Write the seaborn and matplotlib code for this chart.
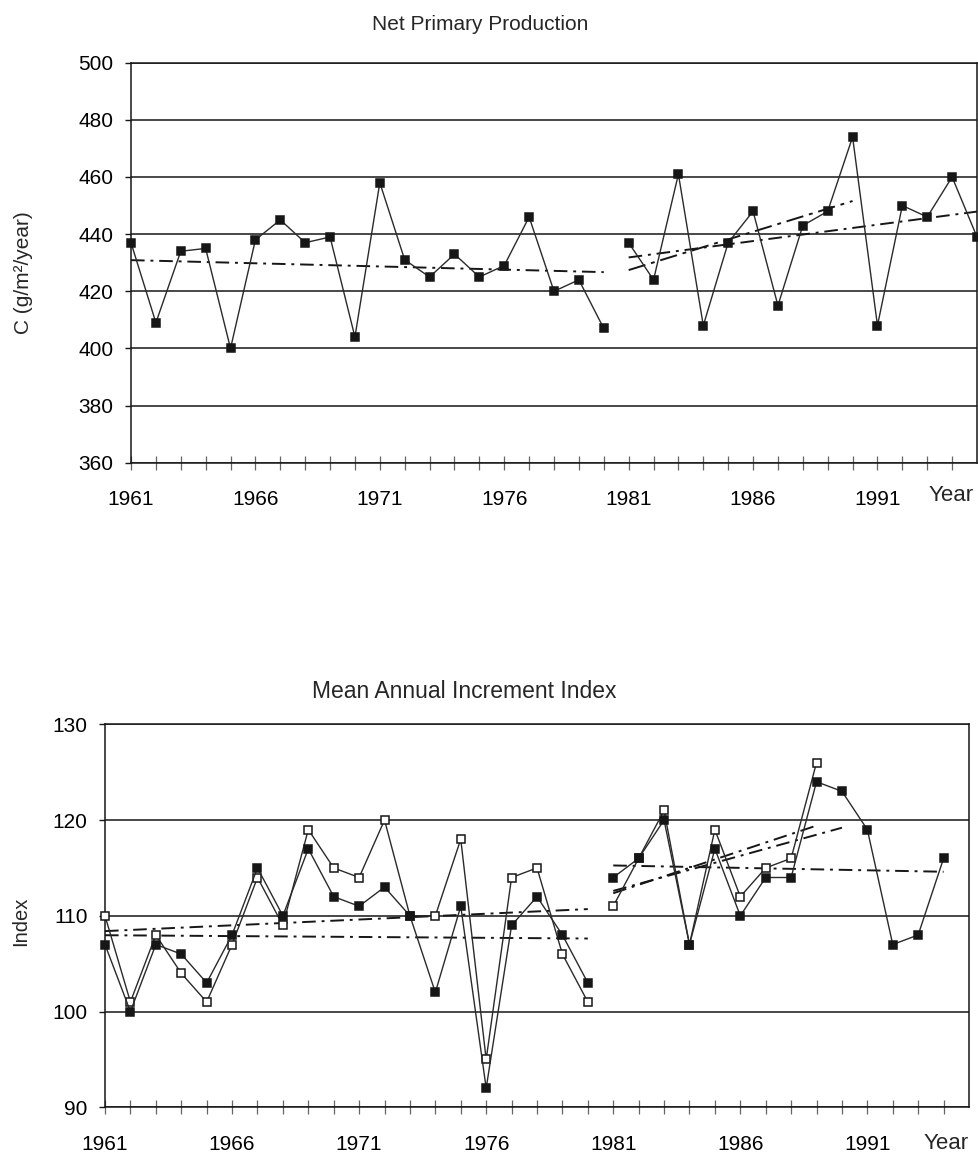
import numpy as np
import pandas as pd
import matplotlib
matplotlib.use("Agg")
import matplotlib.pyplot as plt
import seaborn as sns

# ---------------- data ----------------
years_npp = list(range(1961, 1996))
npp = [437, 409, 434, 435, 400, 438, 445, 437, 439, 404,
       458, 431, 425, 433, 425, 429, 446, 420, 424, 407,
       437, 424, 461, 408, 437, 448, 415, 443, 448, 474,
       408, 450, 446, 460, 439]

years_mai_filled = list(range(1961, 1995))
mai_filled = [107, 100, 107, 106, 103, 108, 115, 110, 117, 112,
              111, 113, 110, 102, 111, 92, 109, 112, 108, 103,
              114, 116, 120, 107, 117, 110, 114, 114, 124, 123,
              119, 107, 108, 116]

years_mai_open = list(range(1961, 1990))
mai_open = [110, 101, 108, 104, 101, 107, 114, 109, 119, 115,
            114, 120, 110, 110, 118, 95, 114, 115, 106, 101,
            111, 116, 121, 107, 119, 112, 115, 116, 126]

segments = [(1961, 1980), (1981, 1995)]
npp_trends = [(1961, 1980), (1981, 1990), (1981, 1995)]
filled_trends = [(1961, 1980), (1981, 1990), (1981, 1994)]
open_trends = [(1961, 1980), (1981, 1989)]

year_ticks = list(range(1961, 1995))
year_labels = [str(y) if (y - 1961) % 5 == 0 else "" for y in year_ticks]
npp_yticks = [360, 380, 400, 420, 440, 460, 480, 500]
mai_yticks = [90, 100, 110, 120, 130]

# ---------------- style ----------------
sns.set_style("white")
plt.rcParams["font.family"] = ["Liberation Sans", "DejaVu Sans"]

W, H = 979, 1157
fig = plt.figure(figsize=(W / 100, H / 100), dpi=100)


def ax_at(left, top, right, bottom):
    return fig.add_axes([left / W, 1 - bottom / H, (right - left) / W, (bottom - top) / H])


ax1 = ax_at(131, 62.7, 977, 462.7)
ax2 = ax_at(105, 724.3, 969, 1107.3)

INK = "#161616"


def draw_series(ax, yrs, vals, filled, z):
    df = pd.DataFrame({"year": yrs, "value": vals})
    for lo, hi in segments:
        seg = df[(df.year >= lo) & (df.year <= hi)]
        sns.lineplot(data=seg, x="year", y="value", ax=ax, color="#2a2a2a",
                     linewidth=1.0, marker="s", markersize=6.3,
                     markerfacecolor=INK if filled else "white",
                     markeredgecolor=INK, markeredgewidth=1.1,
                     clip_on=False, zorder=z, legend=False)


def draw_trend(ax, yrs, vals, lo, hi, dash):
    x = np.array([y for y in yrs if lo <= y <= hi], dtype=float)
    y = np.array([v for yy, v in zip(yrs, vals) if lo <= yy <= hi], dtype=float)
    k, b = np.polyfit(x, y, 1)
    xs = np.array([lo, hi], dtype=float)
    sns.lineplot(x=xs, y=k * xs + b, ax=ax, color=INK, linewidth=1.4,
                 linestyle=dash, zorder=4, legend=False)


DASHDOT = (0, (7, 3, 1.5, 3))
LONGDASH = (0, (9, 3, 2, 3))

# top chart
draw_series(ax1, years_npp, npp, True, 5)
for i, (lo, hi) in enumerate(npp_trends):
    draw_trend(ax1, years_npp, npp, lo, hi, LONGDASH if i == 1 else DASHDOT)

# bottom chart
draw_series(ax2, years_mai_open, mai_open, False, 5)
draw_series(ax2, years_mai_filled, mai_filled, True, 6)
for lo, hi in filled_trends:
    draw_trend(ax2, years_mai_filled, mai_filled, lo, hi, DASHDOT)
for lo, hi in open_trends:
    draw_trend(ax2, years_mai_open, mai_open, lo, hi, DASHDOT)

for ax, yt in [(ax1, npp_yticks), (ax2, mai_yticks)]:
    ax.set_xlim(1961, 1995)
    ax.set_ylim(yt[0], yt[-1])
    ax.set_yticks(yt)
    ax.set_yticklabels([str(v) for v in yt])
    ax.set_xticks(year_ticks)
    ax.set_xticklabels(year_labels)
    ax.set_xlabel("")
    ax.set_ylabel("")
    ax.yaxis.grid(True, color=INK, linewidth=1.1)
    ax.xaxis.grid(False)
    for s in ax.spines.values():
        s.set_visible(True)
        s.set_color(INK)
        s.set_linewidth(1.1)
    ax.tick_params(axis="x", which="major", bottom=True, direction="inout",
                   length=10, width=0.9, color="#666666", pad=15,
                   labelsize=15, labelcolor="black")
    ax.tick_params(axis="y", which="major", left=True, direction="out",
                   length=4.5, width=1.0, color=INK, pad=8,
                   labelsize=15, labelcolor="black")
    ax.set_facecolor("white")

# titles and labels
fig.text(372 / W, 1 - 30 / H, "Net Primary Production", fontsize=15,
         ha="left", va="baseline")
fig.text(312 / W, 1 - 698 / H, "Mean Annual Increment Index", fontsize=16.5,
         ha="left", va="baseline")
fig.text(24 / W, 1 - 273 / H, "C (g/m²/year)", fontsize=15, rotation=90,
         ha="center", va="center")
fig.text(21 / W, 1 - 921 / H, "Index", fontsize=14.5, rotation=90,
         ha="center", va="center")
fig.text(951 / W, 1 - 485 / H, "Year", fontsize=16, ha="center", va="top")
fig.text(946 / W, 1 - 1133 / H, "Year", fontsize=16, ha="center", va="top")

fig.savefig("out.png", dpi=100, facecolor="white")
